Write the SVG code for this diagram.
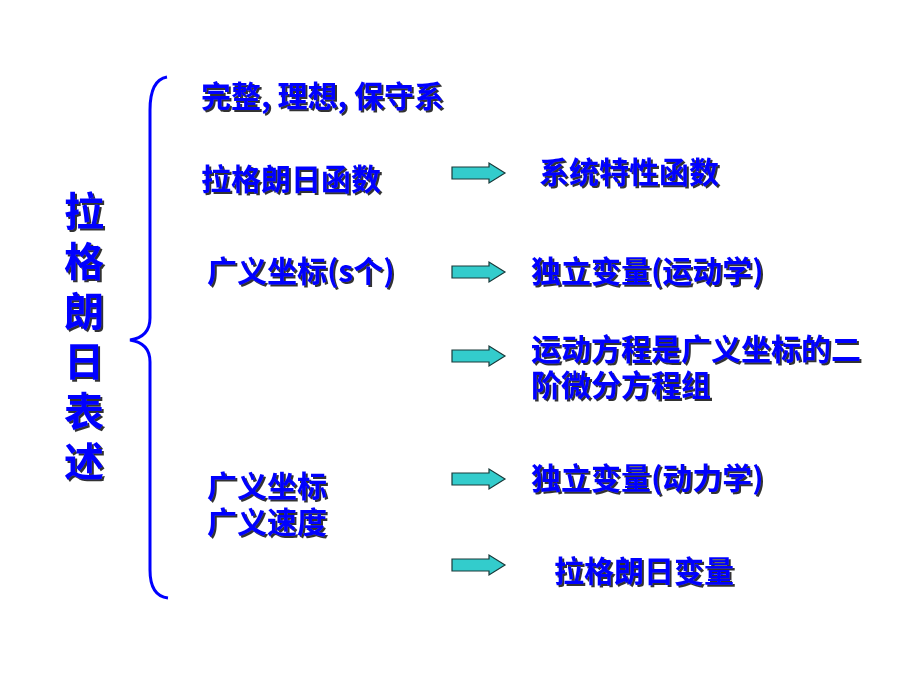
<svg xmlns="http://www.w3.org/2000/svg" width="920" height="690" viewBox="0 0 920 690">
<defs>
<filter id="sh" x="-10%" y="-10%" width="130%" height="140%"><feDropShadow dx="2" dy="2" stdDeviation="0.6" flood-color="#333"/></filter>
<style>
text{font-family:"Noto Sans CJK SC","Liberation Sans",sans-serif;font-weight:bold;font-size:30px;fill:#0000FF;filter:url(#sh)}
.big{font-size:40px}
.a{fill:#33CCCC;stroke:#1a3a3a;stroke-width:1.2}
</style>
<g id="ar"><path class="a" d="M0,4 H37 V0 L53,10 L37,20 V16 H0 Z"/></g>
</defs>
<rect width="920" height="690" fill="#fff"/>
<g id="brace"><path d="M167,77 Q150,80 150,110 V318 Q150,337 130,340 Q150,343 150,362 V570 Q150,596 168,598" fill="none" stroke="#0000FF" stroke-width="3"/></g>
<g id="title">
<text class="big" x="64" y="226">拉</text>
<text class="big" x="64" y="276">格</text>
<text class="big" x="64" y="326">朗</text>
<text class="big" x="64" y="376">日</text>
<text class="big" x="64" y="426">表</text>
<text class="big" x="64" y="476">述</text>
</g>
<g id="connectors">
<use href="#ar" x="452" y="163"/>
<use href="#ar" x="452" y="262"/>
<use href="#ar" x="452" y="346"/>
<use href="#ar" x="452" y="469"/>
<use href="#ar" x="452" y="555"/>
</g>
<g id="n1"><text x="201" y="107">完整, 理想, 保守系</text></g>
<g id="n2"><text x="201" y="190">拉格朗日函数</text></g>
<g id="n3"><text x="539" y="183">系统特性函数</text></g>
<g id="n4"><text x="207" y="282">广义坐标(s个)</text></g>
<g id="n5"><text x="531" y="282">独立变量(运动学)</text></g>
<g id="n6"><text x="531" y="360">运动方程是广义坐标的二</text>
<text x="531" y="396">阶微分方程组</text></g>
<g id="n7"><text x="207" y="497">广义坐标</text>
<text x="207" y="533">广义速度</text></g>
<g id="n8"><text x="531" y="489">独立变量(动力学)</text></g>
<g id="n9"><text x="554" y="582">拉格朗日变量</text></g>
</svg>
